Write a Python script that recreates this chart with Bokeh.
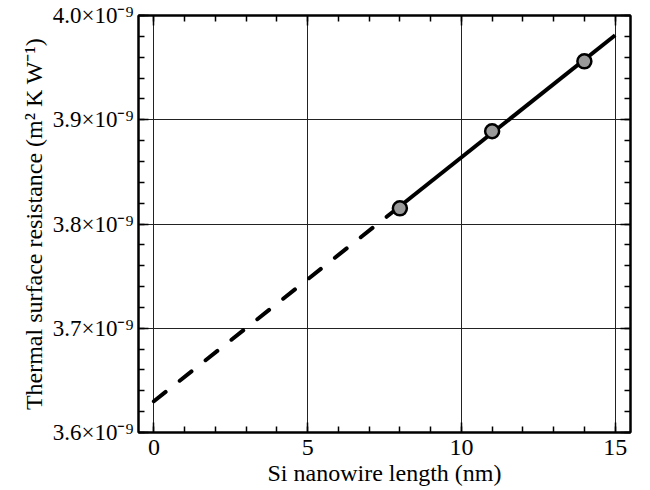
from bokeh.plotting import figure
from bokeh.models import Range1d, LinearAxis, FixedTicker, CustomJSTickFormatter
from bokeh.embed import file_html
from bokeh.resources import INLINE

# data (resistance in units of 1e-9 m^2 K W^-1)
length_nm = [8, 11, 14]
resistance_e9 = [3.815, 3.889, 3.956]
fit_dashed_x = [0, 8]
fit_dashed_y = [3.630, 3.817]
fit_solid_x = [8, 15]
fit_solid_y = [3.817, 3.981]

x_ticks = [0, 5, 10, 15]
x_tick_labels = ["0", "5", "10", "15"]
x_minor = [v for v in range(-1, 17)]
y_ticks = [3.6, 3.7, 3.8, 3.9, 4.0]
y_tick_labels = ["3.6×10⁻⁹", "3.7×10⁻⁹", "3.8×10⁻⁹", "3.9×10⁻⁹", "4.0×10⁻⁹"]
y_minor = [round(3.6 + 0.02 * i, 2) for i in range(21)]

FONT = "Liberation Serif"

p = figure(frame_width=492, frame_height=417, x_range=Range1d(-0.5, 15.5),
           y_range=Range1d(3.6, 4.0), output_backend="svg", toolbar_location=None,
           min_border_left=138, min_border_right=20, min_border_top=15, min_border_bottom=20)
p.outline_line_color = "black"
p.outline_line_width = 2
p.background_fill_color = "white"
p.border_fill_color = "white"

bottom = p.below[0]
left = p.left[0]
bottom.ticker = FixedTicker(ticks=x_ticks, minor_ticks=x_minor)
left.ticker = FixedTicker(ticks=y_ticks, minor_ticks=y_minor)
bottom.major_label_overrides = dict(zip(x_ticks, x_tick_labels))
left.major_label_overrides = dict(zip(y_ticks, y_tick_labels))

top = LinearAxis(ticker=FixedTicker(ticks=x_ticks, minor_ticks=x_minor),
                 formatter=CustomJSTickFormatter(code="return ''"))
right = LinearAxis(ticker=FixedTicker(ticks=y_ticks, minor_ticks=y_minor),
                   formatter=CustomJSTickFormatter(code="return ''"))

for ax in [bottom, left, top, right]:
    ax.axis_line_color = "black"
    ax.axis_line_width = 2
    ax.major_tick_in = 10
    ax.major_tick_out = 0
    ax.minor_tick_in = 6
    ax.minor_tick_out = 0
    ax.major_tick_line_width = 1.5
    ax.minor_tick_line_width = 1.5
    ax.major_tick_line_color = "black"
    ax.minor_tick_line_color = "black"
    ax.major_label_text_font = FONT
    ax.major_label_text_font_size = "24px"
    ax.major_label_text_color = "black"
    ax.axis_label_text_font = FONT
    ax.axis_label_text_font_size = "24px"
    ax.axis_label_text_font_style = "normal"
    ax.axis_label_text_color = "black"

left.major_label_text_font_size = "23px"
top.major_label_standoff = 0
right.major_label_standoff = 0
bottom.major_label_standoff = 7
left.major_label_standoff = 5
bottom.axis_label = "Si nanowire length (nm)"
left.axis_label = "Thermal surface resistance (m² K W⁻¹)"
bottom.axis_label_standoff = 2
left.axis_label_standoff = 3

p.add_layout(top, "above")
p.add_layout(right, "right")

p.xgrid.ticker = FixedTicker(ticks=x_ticks)
p.ygrid.ticker = FixedTicker(ticks=y_ticks)
p.grid.grid_line_color = "#222222"
p.grid.grid_line_width = 1

p.line(fit_dashed_x, fit_dashed_y, line_color="black", line_width=4,
       line_dash="15 18", line_cap="round")
p.line(fit_solid_x, fit_solid_y, line_color="black", line_width=4)
p.scatter(length_nm, resistance_e9, size=14, marker="circle", fill_color="#9a9a9a",
          line_color="black", line_width=2.5)

open("out.html", "w").write(file_html(p, INLINE))
